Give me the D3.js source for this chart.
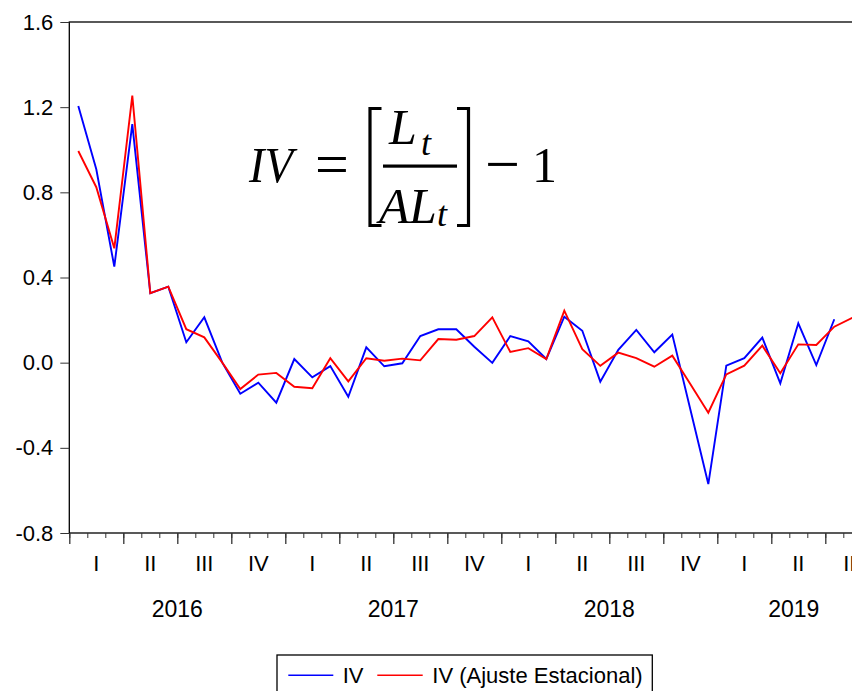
<!doctype html>
<html lang="es">
<head>
  <meta charset="UTF-8">
  <title>IV y IV (Ajuste Estacional)</title>
  <script src="https://cdnjs.cloudflare.com/ajax/libs/d3/7.8.5/d3.min.js"></script>
  <style>
  body { margin: 0; background: #fff; }
  svg { display: block; font-family: "Liberation Sans", Arial, sans-serif; }
  </style>
</head>
<body>

<script>

// meses: ene 2016 .. ago 2019
var meses = d3.timeMonths(new Date(2016, 0, 1), new Date(2019, 8, 1));

var iv = [1.206, 0.908, 0.451, 1.120, 0.326, 0.357, 0.096, 0.213, 0.000, -0.146, -0.094, -0.188,
          0.017, -0.069, -0.016, -0.160, 0.072, -0.017, -0.003, 0.125, 0.157, 0.157, 0.075, -0.001,
          0.125, 0.100, 0.017, 0.216, 0.150, -0.089, 0.060, 0.154, 0.049, 0.132, -0.219, -0.570,
          -0.014, 0.021, 0.118, -0.097, 0.185, -0.011, 0.204, null];

var ivAjuste = [0.994, 0.824, 0.537, 1.254, 0.326, 0.357, 0.157, 0.119, 0.000, -0.124, -0.056, -0.048,
                -0.113, -0.120, 0.021, -0.088, 0.021, 0.009, 0.019, 0.011, 0.111, 0.108, 0.125, 0.213,
                0.050, 0.068, 0.017, 0.244, 0.063, -0.015, 0.047, 0.021, -0.019, 0.033, -0.100, -0.235,
                -0.055, -0.014, 0.080, -0.050, 0.086, 0.083, 0.169, 0.211];

var yTicks = [-0.8, -0.4, 0.0, 0.4, 0.8, 1.2, 1.6];
var trimestres = ["I", "II", "III", "IV"];
var anios = [2016, 2017, 2018, 2019];
var series = ["IV", "IV (Ajuste Estacional)"];
var colores = ["#0000ff", "#ff0000"];

var w = 852;
var h = 691;
var plotLeft = 69.3, plotTop = 22, plotBottom = 533;
var nMeses = 44.5; // the frame goes a bit past the right edge of the picture

var x = d3.scaleLinear().domain([0, nMeses]).range([plotLeft, plotLeft + 18 * nMeses]);
var y = d3.scaleLinear().domain([-0.8, 1.6]).range([plotBottom, plotTop]);

var svg = d3.select('body')
  .append('svg')
  .attr('width', w)
  .attr('height', h);

// marco
svg.append('rect')
  .attr('x', x(0))
  .attr('y', y(1.6))
  .attr('width', x(nMeses) - x(0))
  .attr('height', y(-0.8) - y(1.6))
  .attr('fill', 'none')
  .attr('stroke', '#000')
  .attr('stroke-width', 1.3);

// eje y
var ejeY = svg.append('g')
  .attr('transform', 'translate(' + plotLeft + ',0)')
  .call(d3.axisLeft(y)
    .tickValues(yTicks)
    .tickSize(9)
    .tickSizeOuter(0)
    .tickPadding(7)
    .tickFormat(function(d) { return d.toFixed(1); }));
ejeY.select('.domain').remove();
ejeY.selectAll('line').attr('stroke', '#333');
ejeY.selectAll('text')
  .attr('font-family', '"Liberation Sans", Arial, sans-serif')
  .attr('font-size', 22)
  .attr('fill', '#000');

// eje x: meses (cortas) y trimestres (largas)
var ejeMes = svg.append('g')
  .attr('transform', 'translate(0,' + plotBottom + ')')
  .call(d3.axisBottom(x)
    .tickValues(d3.range(0, 45))
    .tickSize(5)
    .tickSizeOuter(0)
    .tickFormat(''));
ejeMes.select('.domain').remove();
ejeMes.selectAll('line').attr('stroke', '#333');

var ejeTrim = svg.append('g')
  .attr('transform', 'translate(0,' + plotBottom + ')')
  .call(d3.axisBottom(x)
    .tickValues(d3.range(0, 45, 3))
    .tickSize(11)
    .tickSizeOuter(0)
    .tickFormat(''));
ejeTrim.select('.domain').remove();
ejeTrim.selectAll('line').attr('stroke', '#333').attr('stroke-width', 1.3);

// etiquetas de trimestre
svg.selectAll('text.trim')
  .data(d3.range(0, 15))
  .enter()
  .append('text')
  .attr('class', 'trim')
  .text(function(q) { return trimestres[q % 4]; })
  .attr('x', function(q) { return x(q * 3 + 1.5); })
  .attr('y', 570.7)
  .attr('text-anchor', 'middle')
  .attr('font-size', 22)
  .attr('fill', '#000');

// etiquetas de año, centradas en la parte visible
svg.selectAll('text.anio')
  .data(anios)
  .enter()
  .append('text')
  .attr('class', 'anio')
  .text(function(d) { return d; })
  .attr('x', function(d, i) {
    var a = x(i * 12), b = Math.min(x(i * 12 + 12), x(nMeses));
    return (a + b) / 2;
  })
  .attr('y', 617.3)
  .attr('text-anchor', 'middle')
  .attr('font-size', 23)
  .attr('fill', '#000');

// series
var linea = d3.line()
  .defined(function(d) { return d != null; })
  .x(function(d, i) { return x(i + 0.5); })
  .y(function(d) { return y(d); });

svg.selectAll('path.serie')
  .data([iv, ivAjuste])
  .enter()
  .append('path')
  .attr('class', 'serie')
  .attr('d', linea)
  .attr('fill', 'none')
  .attr('stroke', function(d, i) { return colores[i]; })
  .attr('stroke-width', 1.9)
  .attr('stroke-linejoin', 'miter');

// formula
var f = svg.append('g')
  .attr('font-family', '"Liberation Serif", "DejaVu Serif", serif')
  .attr('fill', '#000');

f.append('text').text('IV').attr('x', 249).attr('y', 181.7)
  .attr('font-size', 50).attr('font-style', 'italic')
  .attr('textLength', 44).attr('lengthAdjust', 'spacingAndGlyphs');
f.append('text').text('=').attr('x', 315).attr('y', 184)
  .attr('font-size', 60);
f.append('text').text('L').attr('x', 389).attr('y', 144)
  .attr('font-size', 50).attr('font-style', 'italic');
f.append('text').text('t').attr('x', 421).attr('y', 155)
  .attr('font-size', 36).attr('font-style', 'italic');
f.append('text').text('A').attr('x', 379).attr('y', 222.7)
  .attr('font-size', 50).attr('font-style', 'italic');
f.append('text').text('L').attr('x', 409).attr('y', 222.7)
  .attr('font-size', 50).attr('font-style', 'italic');
f.append('text').text('t').attr('x', 437).attr('y', 226)
  .attr('font-size', 36).attr('font-style', 'italic');
f.append('text').text('\u2212').attr('x', 485).attr('y', 184.5)
  .attr('font-size', 62);
f.append('text').text('1').attr('x', 532).attr('y', 181.7)
  .attr('font-size', 50);

f.append('rect').attr('x', 383).attr('y', 164.5).attr('width', 74).attr('height', 3.2);
f.append('path')
  .attr('d', 'M381.5,108.5 H370 V225.5 H381.5')
  .attr('fill', 'none').attr('stroke', '#000').attr('stroke-width', 3.2);
f.append('path')
  .attr('d', 'M457,108.5 H468.5 V225.5 H457')
  .attr('fill', 'none').attr('stroke', '#000').attr('stroke-width', 3.2);

// leyenda
var ley = svg.append('g');
ley.append('rect')
  .attr('x', 277).attr('y', 655)
  .attr('width', 375.3).attr('height', 60)
  .attr('fill', '#fff')
  .attr('stroke', '#000')
  .attr('stroke-width', 1.3);

var leyX = [[288.3, 333.3, 342.7], [377.3, 422.7, 432.3]];
ley.selectAll('line')
  .data(series)
  .enter()
  .append('line')
  .attr('x1', function(d, i) { return leyX[i][0]; })
  .attr('x2', function(d, i) { return leyX[i][1]; })
  .attr('y1', 675.3)
  .attr('y2', 675.3)
  .attr('stroke', function(d, i) { return colores[i]; })
  .attr('stroke-width', 1.5);
ley.selectAll('text')
  .data(series)
  .enter()
  .append('text')
  .text(function(d) { return d; })
  .attr('x', function(d, i) { return leyX[i][2]; })
  .attr('y', 683.3)
  .attr('font-size', 22)
  .attr('fill', '#000');

</script>

</body>
</html>
